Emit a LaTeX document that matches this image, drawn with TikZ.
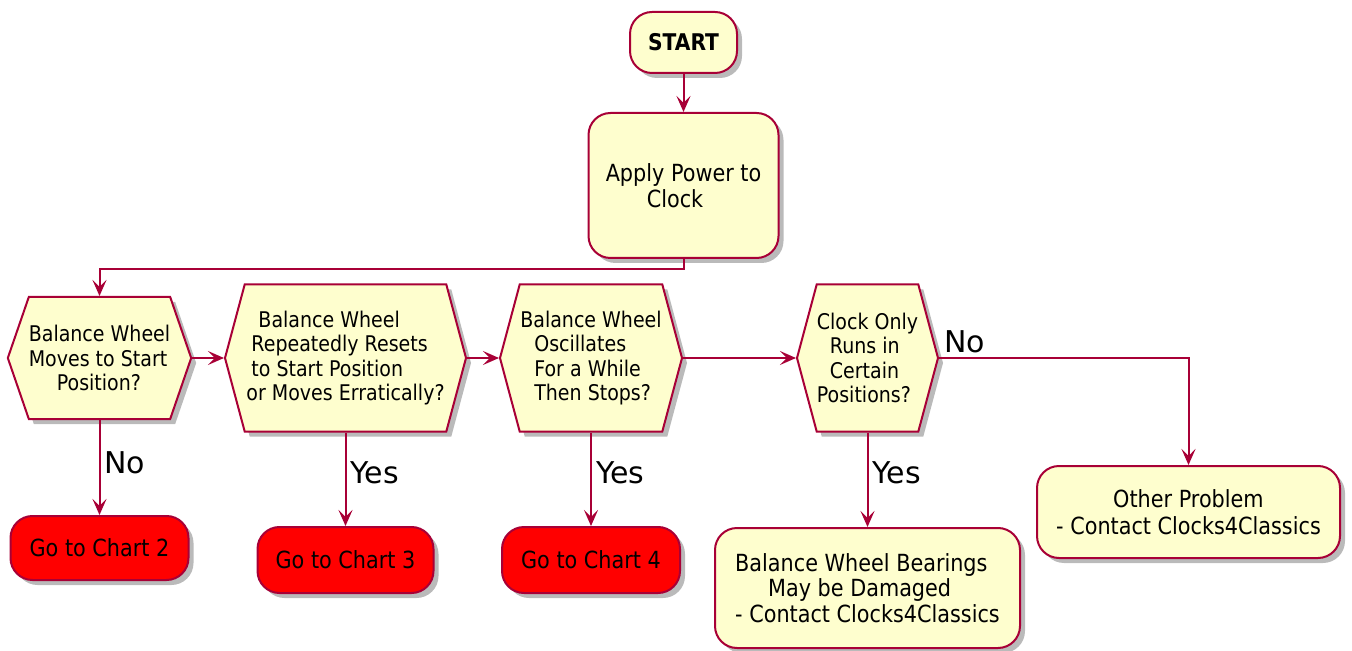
\documentclass[tikz,border=0pt]{standalone}
\usepackage{fontspec}
\setmainfont{DejaVu Sans}[FakeStretch=0.88]
\newfontfamily\lblfont{DejaVu Sans}
\usetikzlibrary{arrows.meta,shapes.symbols,shadows}
\definecolor{umlborder}{HTML}{A80036}
\definecolor{umlfill}{HTML}{FEFECE}
\tikzset{base/.style={draw=umlborder,line width=1pt,fill=umlfill,align=left,inner sep=0pt,
    drop shadow={shadow xshift=2.5pt,shadow yshift=-2.5pt,fill=black!60,opacity=0.45}},
  act/.style={base,rounded corners=11pt,font=\fontsize{11.8}{13}\selectfont},
  goto/.style={act,fill=red},
  quest/.style={base,signal,signal to=west and east,signal pointer angle=150,
    font=\fontsize{10.8}{12.25}\selectfont},
  lbl/.style={font=\lblfont\fontsize{15}{17}\selectfont,inner sep=2pt},
  arr/.style={draw=umlborder,line width=1pt,-{Stealth[length=8pt,width=7pt,inset=3.5pt]}}}

\begin{document}
\begin{tikzpicture}[x=0.5pt,y=-0.5pt]
\useasboundingbox (0,0) rectangle (1352,651);
% activities
\node[act,font=\fontsize{11.5}{13}\selectfont\bfseries,minimum width=53.5pt,minimum height=30.5pt] (start) at (683.5,42.5) {START};
\node[act,minimum width=95pt,minimum height=72.5pt] (power) at (683.5,185.5) {Apply Power to\\\hspace*{20.5pt}Clock};
% questions
\node[quest,signal pointer angle=142,minimum width=89pt,minimum height=61pt] (q1) at (99.5,358) {Balance Wheel\\Moves to Start\\\hspace*{14pt}Position?};
\node[quest,minimum width=120.5pt,minimum height=73.5pt] (q2) at (345.5,358) {\hspace*{6pt}Balance Wheel\\\hspace*{2.5pt}Repeatedly Resets\\\hspace*{2.5pt}to Start Position\\or Moves Erratically?};
\node[quest,minimum width=91pt,minimum height=73.5pt] (q3) at (591,358) {Balance Wheel\\\hspace*{7pt}Oscillates\\\hspace*{7pt}For a While\\\hspace*{7pt}Then Stops?};
\node[quest,minimum width=70.5pt,minimum height=73.5pt] (q4) at (867.5,358) {Clock Only\\\hspace*{6.5pt}Runs in\\\hspace*{6.5pt}Certain\\Positions?};
% outcomes
\node[goto,minimum width=89pt,minimum height=32pt] (chart2) at (99.5,548) {Go to Chart 2};
\node[goto,minimum width=88pt,minimum height=33pt] (chart3) at (345.5,560) {Go to Chart 3};
\node[goto,minimum width=89pt,minimum height=33pt] (chart4) at (591,560) {Go to Chart 4};
\node[act,minimum width=152.5pt,minimum height=60pt,font=\fontsize{11.8}{12.75}\selectfont] (bearings) at (867.5,588) {Balance Wheel Bearings\\\hspace*{16.5pt}May be Damaged\\- Contact Clocks4Classics};
\node[act,minimum width=151.5pt,minimum height=46pt,font=\fontsize{11.8}{13.5}\selectfont] (other) at (1188.5,512) {\hspace*{28.5pt}Other Problem\\- Contact Clocks4Classics};
% connectors
\draw[arr] (start.south) -- (power.north);
\draw[arr] (power.south) -- ++(0,10) -| (q1.north);
\draw[arr] (q1.east) -- (q2.west);
\draw[arr] (q2.east) -- (q3.west);
\draw[arr] (q3.east) -- (q4.west);
\draw[arr] (q4.east) -| node[lbl,pos=0,anchor=south west]{No} (other.north);
\draw[arr] (q1.south) -- node[lbl,right,pos=0.45]{No} (chart2.north);
\draw[arr] (q2.south) -- node[lbl,right,pos=0.43]{Yes} (chart3.north);
\draw[arr] (q3.south) -- node[lbl,right,pos=0.43]{Yes} (chart4.north);
\draw[arr] (q4.south) -- node[lbl,right,pos=0.43]{Yes} (bearings.north);
\end{tikzpicture}
\end{document}
